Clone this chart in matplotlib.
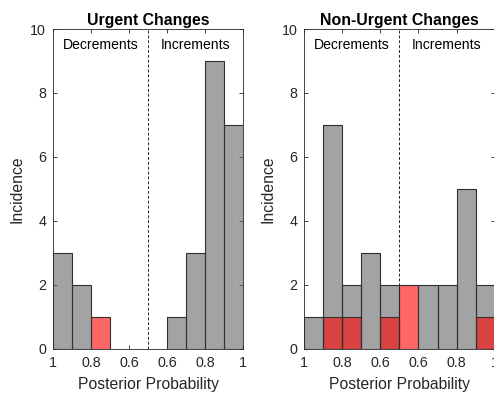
import matplotlib
matplotlib.use("Agg")
import matplotlib.pyplot as plt
import numpy as np

plt.rcParams['font.family'] = ['Liberation Sans', 'DejaVu Sans']

bin_edges = [0.0, 0.1, 0.2, 0.3, 0.4, 0.5, 0.6, 0.7, 0.8, 0.9, 1.0]
urgent_all = [3, 2, 0, 0, 0, 0, 1, 3, 9, 7]
urgent_red = [0, 0, 1, 0, 0, 0, 0, 0, 0, 0]
nonurgent_all = [1, 7, 2, 3, 2, 0, 2, 2, 5, 2]
nonurgent_red = [0, 1, 1, 0, 1, 2, 0, 0, 0, 1]
tick_pos = [0, 0.2, 0.4, 0.6, 0.8, 1.0]
tick_labels = ['1', '0.8', '0.6', '0.6', '0.8', '1']
titles = ['Urgent Changes', 'Non-Urgent Changes']

fig = plt.figure(figsize=(4.94, 3.93), dpi=100)
axc = '#262626'
positions = [[0.1073, 0.1127, 0.3852, 0.8135], [0.616, 0.1127, 0.3852, 0.8135]]
datasets = [(urgent_all, urgent_red), (nonurgent_all, nonurgent_red)]

edges = np.array(bin_edges)
centers = (edges[:-1] + edges[1:]) / 2
widths = np.diff(edges)

for pos, (gray, red), title in zip(positions, datasets, titles):
    ax = fig.add_axes(pos)
    g = np.array(gray); r = np.array(red)
    mg = g > 0
    ax.bar(centers[mg], g[mg], width=widths[mg], color=(0.4, 0.4, 0.4), alpha=0.6,
           edgecolor='none', zorder=2)
    ax.bar(centers[mg], g[mg], width=widths[mg], facecolor='none',
           edgecolor='#303030', linewidth=0.8, zorder=4)
    mr = r > 0
    ax.bar(centers[mr], r[mr], width=widths[mr], color=(1.0, 0.0, 0.0), alpha=0.6,
           edgecolor='none', zorder=3)
    ax.bar(centers[mr], r[mr], width=widths[mr], facecolor='none',
           edgecolor='#303030', linewidth=0.8, zorder=4)
    ax.plot([0.5, 0.5], [0, 10], linestyle=(0, (3, 2)), color='#262626', linewidth=0.7, zorder=5)
    ax.set_xlim(0, 1)
    ax.set_ylim(0, 10)
    ax.set_xticks(tick_pos)
    ax.set_xticklabels(tick_labels)
    ax.set_yticks([0, 2, 4, 6, 8, 10])
    ax.tick_params(direction='in', length=3, width=0.6, colors=axc, labelsize=10.3,
                   top=True, right=True, pad=5)
    for s in ax.spines.values():
        s.set_color(axc)
        s.set_linewidth(0.6)
    ax.set_title(title, fontsize=11.4, fontweight='bold', color='black', pad=3)
    ax.set_xlabel('Posterior Probability', fontsize=11.3, color=axc, labelpad=5)
    ax.set_ylabel('Incidence', fontsize=11.3, color=axc, labelpad=4)
    ax.text(0.25, 9.5, 'Decrements', ha='center', va='center', fontsize=10.1, color='black')
    ax.text(0.75, 9.5, 'Increments', ha='center', va='center', fontsize=10.1, color='black')

fig.savefig('out.png', dpi=100)
